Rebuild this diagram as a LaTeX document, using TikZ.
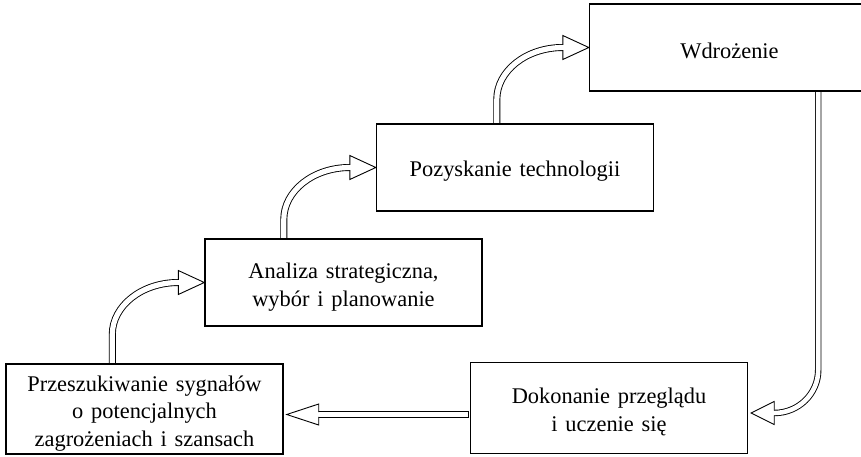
\documentclass[tikz,border=0pt]{standalone}
\usepackage{fontspec}
\setmainfont{Liberation Serif}[WordSpace=1.4]
\usetikzlibrary{calc,backgrounds}

\tikzset{
  box/.style={draw, line width=1.4pt, fill=white, minimum width=277pt,
    inner sep=0pt},
  txt/.style={inner sep=0pt, align=center,
    font=\fontsize{22.4}{27.5}\selectfont},
  shaft/.style={draw, line width=0.9pt, double=white, double distance=#1,
    line cap=rect},
  shaft/.default=5.2pt,
  headline/.style={draw, line width=0.9pt, line join=miter},
}

% open block-arrow head: tip, angle, length, half width, half shaft gap
\newcommand\blockhead[5]{%
  \begin{scope}[shift={(#1)}, rotate=#2]
    \fill[white] (0,0) -- (-#3,#4) -- (-#3,-#4) -- cycle;
    \draw[headline] (-#3,#5) -- (-#3,#4) -- (0,0) -- (-#3,-#4) -- (-#3,-#5);
  \end{scope}}

\begin{document}
\begin{tikzpicture}[x=1pt, y=1pt]
  \useasboundingbox (0,0) rectangle (861,456);
  \clip (0,0) rectangle (861,456);

  % process stages
  \node[box, minimum height=90pt] (A) at (144.5,47) {};
  \node[box, minimum height=87pt] (B) at (343.5,173.5) {};
  \node[box, minimum height=87pt] (C) at (515,288.5) {};
  \node[box, minimum height=87pt, minimum width=280pt] (D) at (729.5,408.5) {};
  \node[box, minimum height=91pt] (E) at (609,48) {};

  % stage captions, set a little below the box centres
  \node[txt] (At) at ($(A)+(0,-4.5)$)
    {Przeszukiwanie sygnałów\\o potencjalnych\\zagrożeniach i szansach};
  \node[txt] (Bt) at ($(B)+(0,-4.5)$) {Analiza strategiczna,\\wybór i planowanie};
  \node[txt] (Ct) at ($(C)+(0,-4)$) {Pozyskanie technologii};
  \node[txt] (Dt) at ($(D)+(0,-3)$) {Wdrożenie};
  \node[txt] (Et) at ($(E)+(0,-4)$) {Dokonanie przeglądu\\i uczenie się};

  % helper points for the block arrows
  \coordinate (k1) at ($(B.west)+(-92,-52)$);
  \coordinate (k2) at ($(C.west)+(-92,-52)$);
  \coordinate (k3) at ($(D.west)+(-92,-52)$);
  \coordinate (t4) at ($(E.east)+(3,-5)$);
  \coordinate (k4) at ($(t4)+(67,43)$);
  \coordinate (t5) at ($(A.east)+(3,-5.5)$);
  \coordinate (s5) at ($(E.west)+(-4.5,-6.5)$);

  \begin{scope}[on background layer]
    % rising arrows
    \draw[shaft] (k1 |- A.north) -- (k1)
      arc[start angle=180, end angle=90, x radius=66, y radius=52];
    \blockhead{B.west}{0}{26}{12}{2.6}

    \draw[shaft] (k2 |- B.north) -- (k2)
      arc[start angle=180, end angle=90, x radius=66, y radius=52];
    \blockhead{C.west}{0}{26}{12}{2.6}

    \draw[shaft] (k3 |- C.north) -- (k3)
      arc[start angle=180, end angle=90, x radius=66, y radius=52];
    \blockhead{D.west}{0}{26}{12}{2.6}

    % descending arrow
    \draw[shaft=4.6pt] (k4 |- D.south) -- (k4)
      arc[start angle=0, end angle=-90, x radius=44, y radius=43];
    \blockhead{t4}{180}{23}{11.5}{2.3}

    % return arrow
    \draw[shaft=4.6pt] (s5) -- ($(t5)+(32,0)$);
    \blockhead{t5}{180}{32}{10.5}{2.3}
  \end{scope}
\end{tikzpicture}
\end{document}
